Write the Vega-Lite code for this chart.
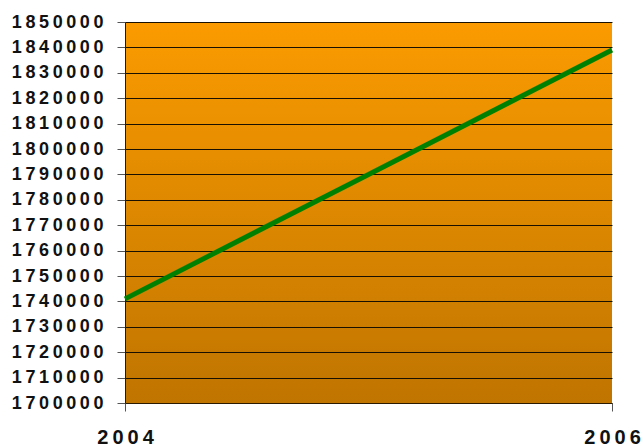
{
  "$schema": "https://vega.github.io/schema/vega-lite/v6.json",
  "width": 487,
  "height": 381,
  "autosize": "none",
  "padding": {"left": 125, "top": 22, "right": 32, "bottom": 45},
  "background": "white",
  "config": {
    "view": {
      "stroke": null,
      "fill": {
        "gradient": "linear",
        "x1": 0, "y1": 0, "x2": 0, "y2": 1,
        "stops": [
          {"offset": 0, "color": "#FB9B00"},
          {"offset": 1, "color": "#C07500"}
        ]
      }
    },
    "axis": {
      "labelFont": "Liberation Sans",
      "labelFontWeight": "bold",
      "labelColor": "#111111"
    }
  },
  "data": {
    "values": [
      {"year": 2004, "value": 1741000},
      {"year": 2005, "value": 1790000},
      {"year": 2006, "value": 1839000}
    ]
  },
  "mark": {"type": "line", "color": "#008000", "strokeWidth": 5, "clip": false},
  "encoding": {
    "x": {
      "field": "year",
      "type": "quantitative",
      "scale": {"domain": [2004, 2006], "nice": false, "zero": false},
      "axis": {
        "title": null,
        "values": [2004, 2005, 2006],
        "format": "d",
        "labelExpr": "join(split(datum.label, ''), '\u2009')",
        "grid": false,
        "domainColor": "#2a1a00",
        "tickColor": "#555555",
        "tickSize": 8,
        "labelFontSize": 20,
        "labelPadding": 16,
        "labelFlush": false,
        "labelOverlap": false
      }
    },
    "y": {
      "field": "value",
      "type": "quantitative",
      "scale": {"domain": [1700000, 1850000], "nice": false, "zero": false},
      "axis": {
        "title": null,
        "values": [1700000, 1710000, 1720000, 1730000, 1740000, 1750000, 1760000, 1770000, 1780000, 1790000, 1800000, 1810000, 1820000, 1830000, 1840000, 1850000],
        "format": "d",
        "labelExpr": "join(split(datum.label, ''), '\u2009')",
        "grid": true,
        "gridColor": "#1a1000",
        "gridOpacity": 1,
        "domainColor": "#2a1a00",
        "tickColor": "#555555",
        "tickSize": 8,
        "labelFontSize": 18,
        "labelPadding": 14,
        "labelOverlap": false
      }
    }
  }
}
